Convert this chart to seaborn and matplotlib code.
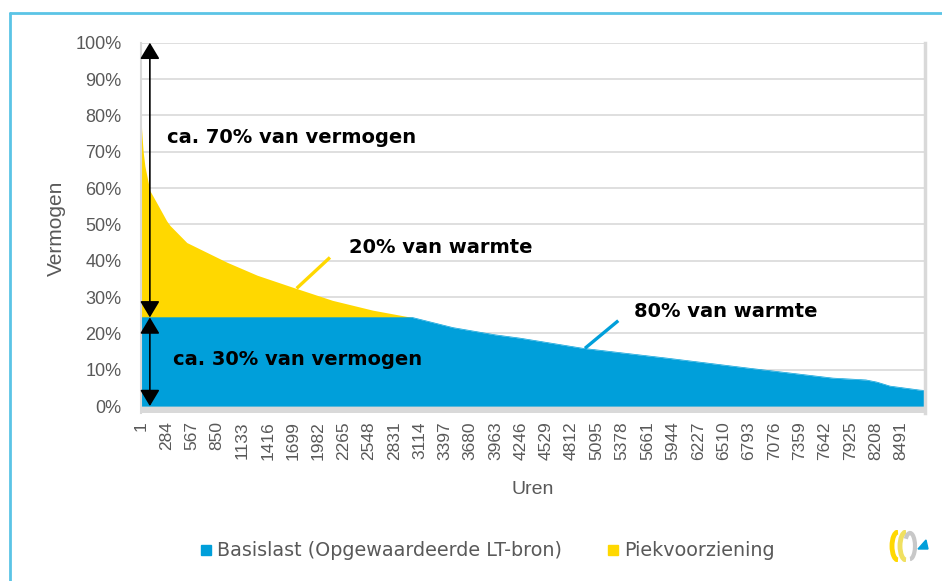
import numpy as np
import pandas as pd
import seaborn as sns
import matplotlib
matplotlib.use("Agg")
import matplotlib.pyplot as plt
from matplotlib.lines import Line2D
from matplotlib.patches import Arc, Polygon

# ---------------- data ----------------
hours = [1, 8, 25, 45, 100, 175, 287, 325, 513, 960, 1300, 1697, 2140, 2590, 3030,
         3486, 3960, 4235, 4939, 5877, 6804, 7732, 8100, 8223, 8369, 8704, 8760]
total_load = [80, 76, 70, 66, 59.3, 56, 51, 49.7, 45, 39.6, 36, 32.7, 29.1, 26.4, 24.4,
              21.6, 19.6, 18.7, 15.9, 13.2, 10.4, 7.7, 7.2, 6.6, 5.5, 4.4, 4.3]
base_load = [24.4, 24.4, 24.4, 24.4, 24.4, 24.4, 24.4, 24.4, 24.4, 24.4, 24.4, 24.4, 24.4, 24.4, 24.4,
             21.6, 19.6, 18.7, 15.9, 13.2, 10.4, 7.7, 7.2, 6.6, 5.5, 4.4, 4.3]
tick_hours = [1, 284, 567, 850, 1133, 1416, 1699, 1982, 2265, 2548, 2831, 3114, 3397, 3680,
              3963, 4246, 4529, 4812, 5095, 5378, 5661, 5944, 6227, 6510, 6793, 7076, 7359,
              7642, 7925, 8208, 8491]
y_ticks = [0, 10, 20, 30, 40, 50, 60, 70, 80, 90, 100]
series_names = ["Basislast (Opgewaardeerde LT-bron)", "Piekvoorziening"]

df = pd.DataFrame({"uren": hours, "totaal": total_load, "basis": base_load})

BLUE = "#009FDA"
YELLOW = "#FFD800"
GRID = "#D9D9D9"
TXT = "#595959"

sns.set_theme(style="white")
plt.rcParams["font.family"] = ["Liberation Sans", "DejaVu Sans"]

fig = plt.figure(figsize=(9.42, 5.81), dpi=100)
W, H = 942, 581
ax = fig.add_axes([141 / W, 1 - 413 / H, (925 - 141) / W, (413 - 42.7) / H])

# floor band
ax.axhspan(-1.9, 0, color=GRID, lw=0, zorder=0)
for v in y_ticks[1:]:
    ax.axhline(v, color=GRID, lw=1.2, zorder=0.5)

ax.fill_between(df["uren"], 0, df["basis"], color=BLUE, lw=0, zorder=2)
ax.fill_between(df["uren"], df["basis"], df["totaal"], color=YELLOW, lw=0, zorder=2)
sns.lineplot(data=df, x="uren", y="basis", ax=ax, color=BLUE, lw=0.5, zorder=2.1,
             legend=False)

ax.set_xlim(1, 8760)
ax.set_ylim(-1.9, 100)
ax.set_yticks(y_ticks)
ax.set_yticklabels([f"{v}%" for v in y_ticks], color=TXT, fontsize=13)
ax.set_xticks(tick_hours)
ax.set_xticklabels([str(h) for h in tick_hours], rotation=90, color=TXT, fontsize=12.5)
ax.tick_params(axis="both", length=0)
ax.tick_params(axis="y", pad=14)
ax.tick_params(axis="x", pad=6)

for s in ["top", "bottom"]:
    ax.spines[s].set_visible(False)
ax.spines["left"].set_color(GRID)
ax.spines["left"].set_linewidth(1.5)
ax.spines["right"].set_color(GRID)
ax.spines["right"].set_linewidth(2.5)

ax.set_xlabel("Uren", color=TXT, fontsize=14, labelpad=15)
ax.set_ylabel("Vermogen", color=TXT, fontsize=15, labelpad=7)

# arrows
ax.annotate("", xy=(100, 100), xytext=(100, 24.4),
            arrowprops=dict(arrowstyle="<|-|>,head_length=0.5,head_width=0.3",
                            mutation_scale=20, color="black", lw=1.2,
                            shrinkA=0, shrinkB=0), zorder=5)
ax.annotate("", xy=(100, 24.4), xytext=(100, 0),
            arrowprops=dict(arrowstyle="<|-|>,head_length=0.5,head_width=0.3",
                            mutation_scale=20, color="black", lw=1.2,
                            shrinkA=0, shrinkB=0), zorder=5)

# leader lines
ax.plot([1740, 2112], [32.4, 40.9], color=YELLOW, lw=2.4, zorder=3, solid_capstyle="butt")
ax.plot([4961, 5333], [15.9, 23.5], color=BLUE, lw=2.4, zorder=3, solid_capstyle="butt")

bold = dict(fontsize=14, fontweight="bold", color="black", family="DejaVu Sans",
            va="center", ha="left", zorder=6)
ax.text(290, 74, "ca. 70% van vermogen", **bold)
ax.text(2320, 43.7, "20% van warmte", **bold)
ax.text(5510, 26.0, "80% van warmte", **bold)
ax.text(355, 12.8, "ca. 30% van vermogen", **bold)

# legend
handles = [Line2D([], [], marker="s", ls="", color=BLUE, markersize=7.5),
           Line2D([], [], marker="s", ls="", color=YELLOW, markersize=7.5)]
fig.legend(handles, series_names, loc="center", bbox_to_anchor=(487 / W, 1 - 551 / H),
           ncol=2, frameon=False, handletextpad=0.25, columnspacing=2.3,
           prop={"family": ["DejaVu Sans"], "size": 13.8},
           labelcolor=TXT, handlelength=0.7)

# figure border
border = "#5BC4E6"
fig.add_artist(Line2D([10 / W, 1], [1 - 12.5 / H, 1 - 12.5 / H], color=border, lw=2,
                      transform=fig.transFigure))
fig.add_artist(Line2D([10 / W, 10 / W], [0, 1 - 12.5 / H], color=border, lw=2,
                      transform=fig.transFigure))

# small logo
lax = fig.add_axes([884 / W, 1 - 562 / H, 50 / W, 32 / H])
lax.set_xlim(0, 50)
lax.set_ylim(0, 32)
lax.axis("off")
lax.add_patch(Arc((14, 16), 12, 28, theta1=90, theta2=270, color=YELLOW, lw=3.5))
lax.add_patch(Arc((22, 16), 12, 28, theta1=90, theta2=270, color="#F0E060", lw=3.5))
lax.add_patch(Arc((26, 16), 10, 26, theta1=-90, theta2=120, color="#C8C8C8", lw=3))
lax.add_patch(Polygon([[34, 13], [44, 13], [42, 22]], closed=True, color=BLUE))

fig.savefig("out.png", dpi=100)
